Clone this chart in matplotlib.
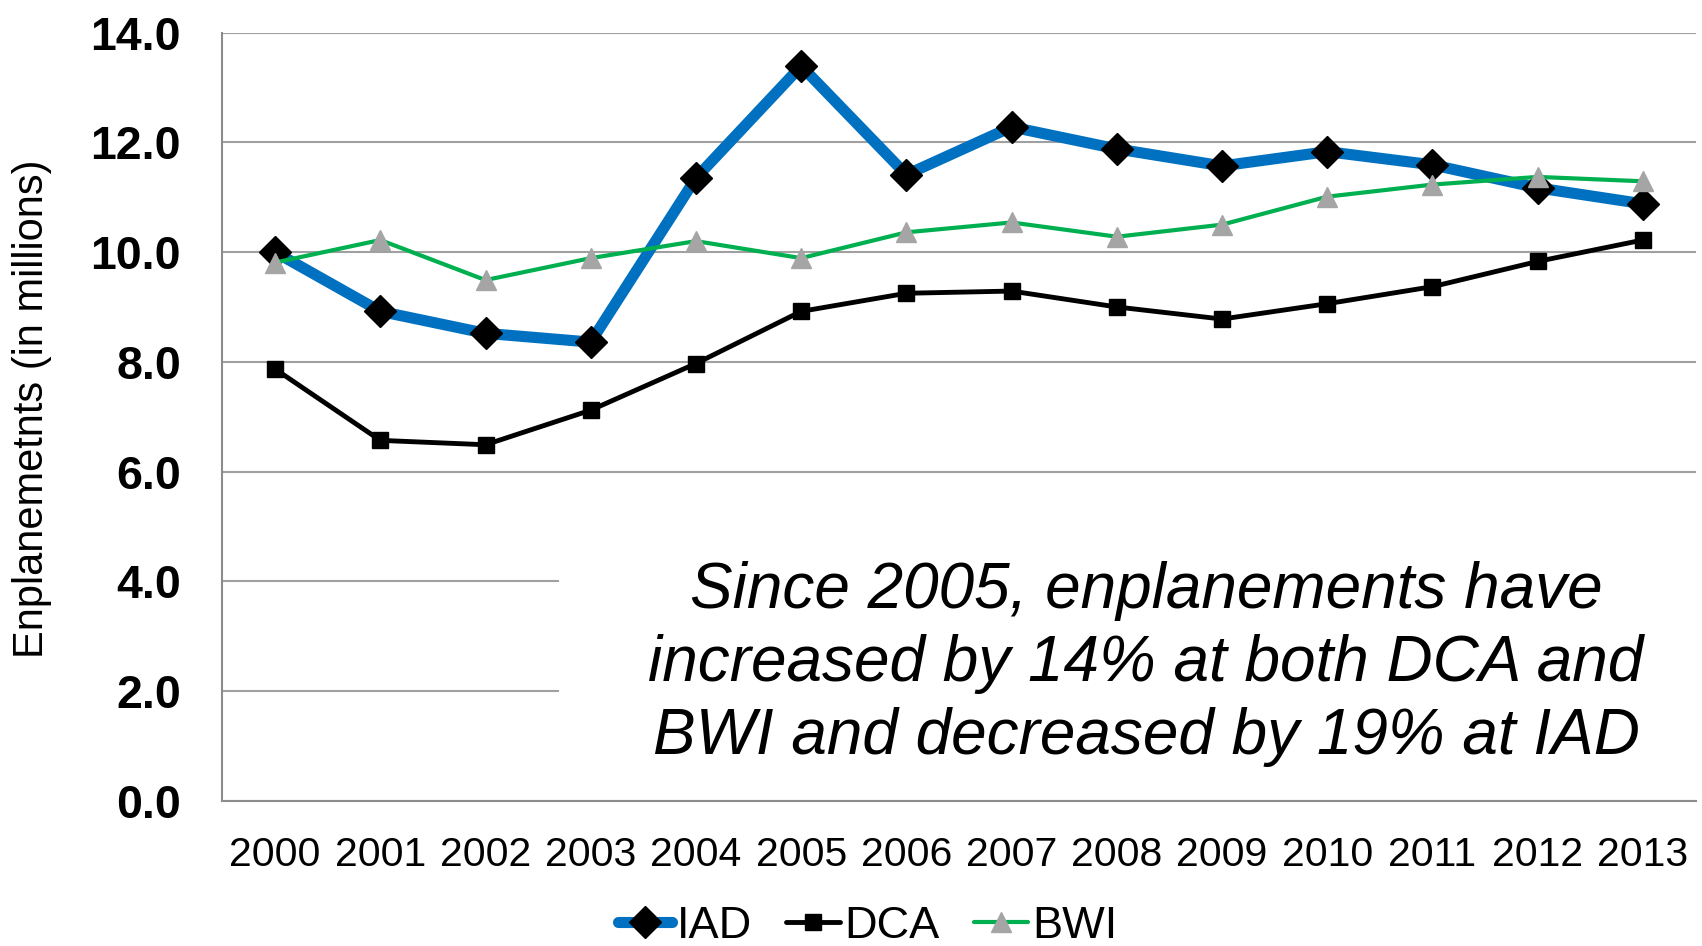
import matplotlib
matplotlib.use('Agg')
import matplotlib.pyplot as plt
from matplotlib.patches import Rectangle
from matplotlib.transforms import blended_transform_factory

years = ['2000', '2001', '2002', '2003', '2004', '2005', '2006',
         '2007', '2008', '2009', '2010', '2011', '2012', '2013']
# enplanements, millions
iad = [10.00, 8.92, 8.52, 8.36, 11.35, 13.39, 11.41,
       12.28, 11.88, 11.57, 11.83, 11.59, 11.17, 10.88]
dca = [7.87, 6.57, 6.49, 7.12, 7.97, 8.92, 9.25,
       9.29, 9.00, 8.78, 9.06, 9.37, 9.83, 10.22]
bwi = [9.81, 10.22, 9.49, 9.89, 10.20, 9.89, 10.36,
       10.54, 10.28, 10.50, 11.01, 11.23, 11.37, 11.29]
yticks = [0, 2, 4, 6, 8, 10, 12, 14]
note = ('Since 2005, enplanements have\n'
        'increased by 14% at both DCA and\n'
        'BWI and decreased by 19% at IAD')

plt.rcParams['font.family'] = ['Liberation Sans', 'DejaVu Sans']

fig = plt.figure(figsize=(17.02, 9.46), dpi=100)
ax = fig.add_axes([0.1307, 0.1533, 0.8655, 0.8123])

x = list(range(len(years)))
ax.plot(x, iad, color='#0070C0', lw=8, marker='D', ms=16.5,
        mfc='black', mec='black', mew=1, solid_capstyle='round',
        solid_joinstyle='round', label='IAD')
ax.plot(x, dca, color='black', lw=3.5, marker='s', ms=12,
        mfc='black', mec='black', mew=1, solid_capstyle='round',
        label='DCA')
ax.plot(x, bwi, color='#00B050', lw=3, marker='^', ms=14,
        mfc='#A5A5A5', mec='#A5A5A5', mew=1, solid_capstyle='round',
        label='BWI')

ax.set_xlim(-0.5, len(years) - 0.5)
ax.set_ylim(0, 14)
ax.set_xticks(x)
ax.set_xticklabels(years, fontsize=29.5)
ax.set_yticks(yticks)
ax.set_yticklabels(['%.1f' % v for v in yticks], fontsize=33.5,
                   fontweight='bold')
ax.tick_params(axis='both', length=0)
ax.tick_params(axis='y', pad=30)
ax.tick_params(axis='x', pad=25)

ax.grid(axis='y', color='#A0A0A0', lw=1.5)
ax.set_axisbelow(True)
for s in ['top', 'right']:
    ax.spines[s].set_visible(False)
for s in ['left', 'bottom']:
    ax.spines[s].set_color('#8C8C8C')
    ax.spines[s].set_linewidth(1.5)
    ax.spines[s].set_zorder(3)

ax.set_ylabel('Enplanemetnts (in millions)', fontsize=30, va='center')
ax.yaxis.set_label_coords(-0.129, 0.51)

# white box behind the note hides part of the grid
trans = blended_transform_factory(ax.transAxes, ax.transData)
ax.add_patch(Rectangle((0.2285, 0.4), 0.7715, 5.0, transform=trans,
                       facecolor='white', edgecolor='none', zorder=1.5))
ax.text(0.627, 0.178, note, transform=ax.transAxes, fontsize=46,
        style='italic', ha='center', va='center', linespacing=1.28,
        zorder=4)

fig.legend(loc='center', bbox_to_anchor=(0.51, 0.021), ncol=3,
           frameon=False, fontsize=32.5, handlelength=1.2,
           handletextpad=0.1, columnspacing=0.75, borderpad=0,
           borderaxespad=0)

fig.savefig('out.png', dpi=100)
